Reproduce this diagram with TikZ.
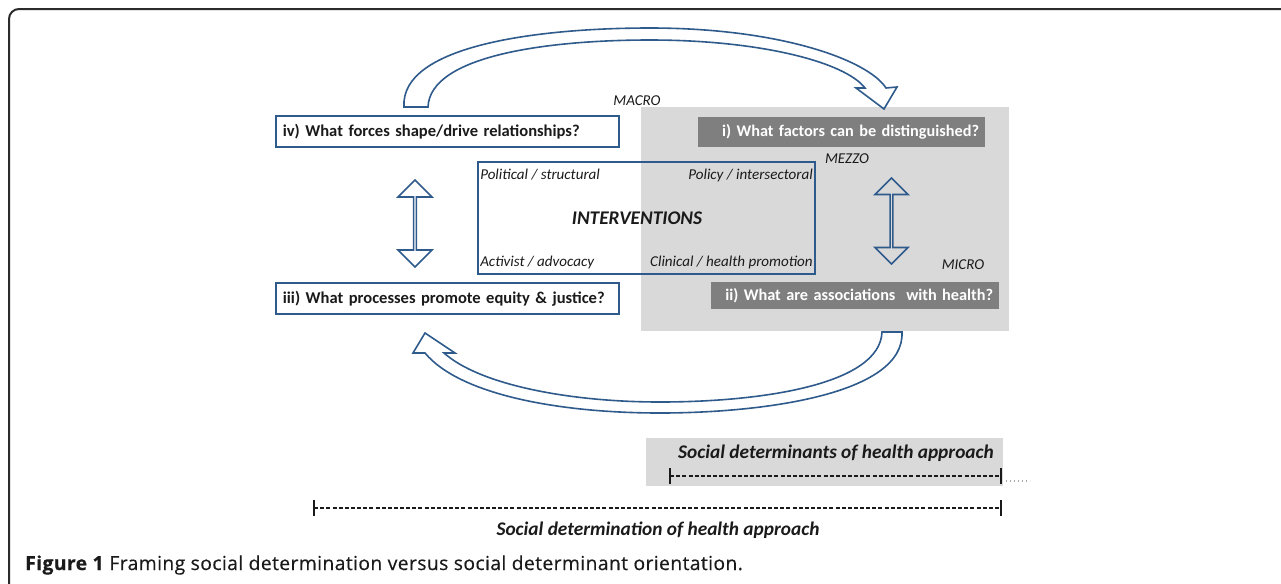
\documentclass[tikz,border=0pt]{standalone}
\usepackage{fontspec}
\setmainfont{Carlito}
\newfontfamily\capfont{Open Sans}[LetterSpace=2,FakeBold=0.4]
\usepackage{tikz}
\usetikzlibrary{arrows.meta,shapes.arrows}
\definecolor{cBlue}{HTML}{2F5B8C}
\definecolor{cZone}{HTML}{D9D9D9}
\definecolor{cDark}{HTML}{7F7F7F}
\definecolor{cFrame}{HTML}{2B2B2B}
\definecolor{cInk}{HTML}{1A1A1A}
\definecolor{cDots}{HTML}{A6A6A6}

\begin{document}
\begin{tikzpicture}[
  x=0.75pt,y=0.75pt,
  frame/.style={draw=cFrame,line width=1.5pt,rounded corners=7.5pt},
  zone/.style={fill=cZone,inner sep=0pt},
  qbox/.style={draw=cBlue,fill=white,line width=1.5pt,align=left,inner xsep=5pt,inner ysep=0pt,
               font=\fontsize{12.4}{15}\selectfont\bfseries,text=cInk,minimum height=23.25pt,text width=247pt},
  qdark/.style={fill=cDark,align=right,inner xsep=4.5pt,inner ysep=0pt,
               font=\fontsize{12.2}{15}\selectfont\bfseries,text=white},
  intbox/.style={draw=cBlue,line width=1.5pt,inner sep=0pt},
  lvl/.style={font=\fontsize{11.3}{13}\selectfont\itshape,text=cInk,inner sep=0pt},
  dbl/.style={double arrow,draw=cBlue,line width=1.2pt,rotate=90,inner sep=0pt,
              double arrow head extend=6.75pt,double arrow tip angle=90},
  fat/.style={draw=cBlue,line width=1.2pt,line join=miter},
  apr/.style={font=\fontsize{14.5}{17}\selectfont\bfseries\itshape,text=cInk,inner sep=0pt},
  scl/.style={draw=cInk,line width=1pt,dash pattern=on 3pt off 1.6pt,
              {Bar[width=12pt,line width=1.2pt]}-{Bar[width=12pt,line width=1.2pt]}}
]
\useasboundingbox (0,0) rectangle (1281,-583);

% ---- moldura
\draw[frame] (9,-600) -- (9,-9) -- (1300,-9);

% ---- zona dos determinantes
\node[zone,minimum width=276pt,minimum height=168pt] (zone) at (825,-219) {};

% ---- setas curvas
\draw[fat] (404,-107) .. controls (400,-45) and (540,-28) .. (650,-28)
      .. controls (780,-28) and (868,-60) .. (886,-88)
      -- (897,-87) -- (884,-109) -- (856,-88) -- (865,-88)
      .. controls (845,-62) and (760,-40) .. (650,-40)
      .. controls (550,-40) and (430,-55) .. (428,-107) -- cycle;
\draw[fat] (902,-332) .. controls (905,-395) and (760,-413) .. (660,-413)
      .. controls (560,-413) and (460,-395) .. (425,-353)
      -- (413,-353) -- (425,-333) -- (455,-353) -- (444,-353)
      .. controls (480,-385) and (570,-402) .. (660,-402)
      .. controls (760,-402) and (880,-385) .. (882,-332) -- cycle;

% ---- perguntas
\node[qbox] (qiv) at (447.5,-131.5) {iv) What forces shape/drive relationships?};
\node[qbox] (qiii) at (447.5,-298.5) {iii) What processes promote equity \& justice?};
\node[qdark,text width=206.25pt,minimum height=22.5pt] (qi) at (841.5,-132) {i) What factors can be distinguished?};
\node[qdark,text width=207pt,minimum height=20.25pt] (qii) at (855,-295.5) {ii) What are associations~ with health?};

% ---- intervencoes
\node[intbox,minimum width=252.75pt,minimum height=84pt] (intv) at (646.5,-218) {};
\node[lvl,anchor=west] (pol) at (480,-175) {Political / structural};
\node[lvl,anchor=east] (pcy) at (813,-175) {Policy / intersectoral};
\node[lvl,anchor=west] (act) at (480,-262) {Activist / advocacy};
\node[lvl,anchor=east] (cli) at (813,-262) {Clinical / health promotion};
\node[font=\fontsize{14.5}{16}\selectfont\bfseries\itshape,text=cInk] (int) at (637,-218) {INTERVENTIONS};

% ---- niveis
\node[lvl] (macro) at (637,-101) {MACRO};
\node[lvl] (mezzo) at (847,-159) {MEZZO};
\node[lvl] (micro) at (963,-265) {MICRO};

% ---- setas duplas
\node[dbl,minimum height=65.25pt,minimum width=25.5pt] (dl) at (415,-223.5) {};
\node[dbl,minimum height=64.5pt,minimum width=24.75pt] (dr) at (891.5,-221) {};

% ---- escalas
\node[zone,minimum width=267.75pt,minimum height=36pt] (sdhbox) at (824.5,-462) {};
\node[apr] (sdh) at (836,-453) {Social determinants of health approach};
\coordinate (sdL) at (669,-476);
\coordinate (sdR) at (1002,-476);
\coordinate (sdT) at (1030,-481);
\draw[scl] (sdL) -- (sdR);
\draw[cDots,line width=0.8pt,dash pattern=on 0.8pt off 2.2pt] ([xshift=3pt,yshift=-3.75pt]sdR) -- (sdT);
\coordinate (sdnL) at (313,-508);
\coordinate (sdnR) at (1002,-508);
\draw[scl] (sdnL) -- (sdnR);
\node[apr] (sdn) at (658,-530) {Social determination of health approach};

% ---- legenda
\node[anchor=west,inner sep=0pt,font=\capfont\fontsize{14.5}{17}\selectfont,text=cInk] (cap) at (25,-565)
      {\textbf{Figure 1} Framing social determination versus social determinant orientation.};
\end{tikzpicture}
\end{document}
